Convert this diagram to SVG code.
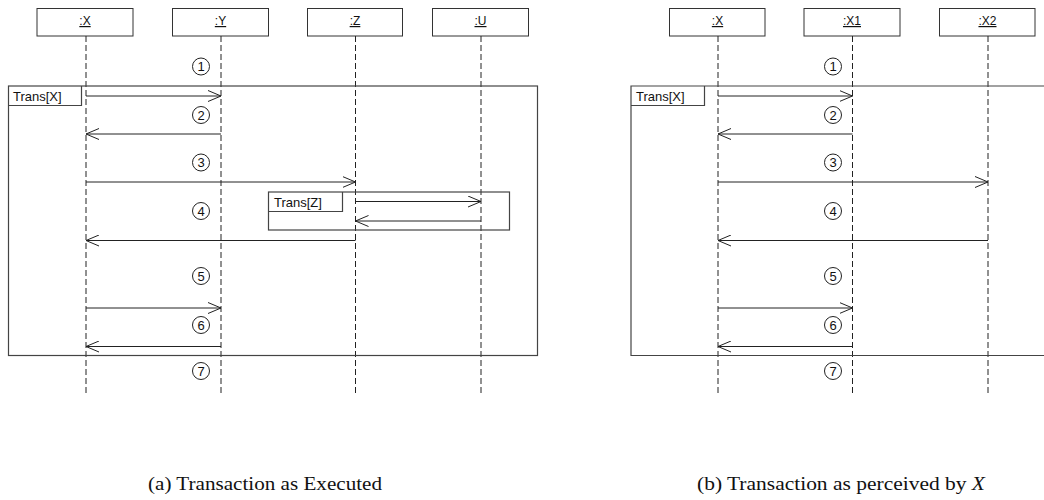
<svg xmlns="http://www.w3.org/2000/svg" width="1044" height="500" viewBox="0 0 1044 500">
<defs>
<style>
.obj{fill:#fff;stroke:#333;stroke-width:1}
.life{stroke:#222;stroke-width:1;stroke-dasharray:6,3;fill:none}
.frame{fill:none;stroke:#444;stroke-width:1.2}
.msg{stroke:#222;stroke-width:1;fill:none}
.lbl{font-family:"Liberation Sans",Arial,sans-serif;font-size:12px;fill:#111;text-anchor:middle;text-decoration:underline}
.flbl{font-family:"Liberation Sans",Arial,sans-serif;font-size:13px;fill:#111}
.num{fill:none;stroke:#222;stroke-width:1}
.numt{font-family:"Liberation Sans",Arial,sans-serif;font-size:13px;fill:#111;text-anchor:middle}
.cap{font-family:"Liberation Serif","Times New Roman",serif;font-size:18px;fill:#111}
</style>
<marker id="ah" viewBox="0 0 14 12" refX="13" refY="6" markerWidth="14" markerHeight="12" markerUnits="userSpaceOnUse" orient="auto">
<path d="M0,0.5 L13,6 L0,11.5" fill="none" stroke="#222" stroke-width="1"/>
</marker>
</defs>

<!-- Left diagram (a) -->
<g id="a-obj-X"><rect class="obj" x="37" y="8.5" width="96" height="27.5"/><text class="lbl" x="85" y="25">:X</text></g>
<g id="a-obj-Y"><rect class="obj" x="172.5" y="8.5" width="96" height="27.5"/><text class="lbl" x="220.5" y="25">:Y</text></g>
<g id="a-obj-Z"><rect class="obj" x="307.5" y="8.5" width="95" height="27.5"/><text class="lbl" x="355" y="25">:Z</text></g>
<g id="a-obj-U"><rect class="obj" x="432.5" y="8.5" width="96" height="27.5"/><text class="lbl" x="480.5" y="25">:U</text></g>

<g id="a-lifelines">
<line class="life" x1="86" y1="36" x2="86" y2="396"/>
<line class="life" x1="221" y1="36" x2="221" y2="396"/>
<line class="life" x1="355.5" y1="36" x2="355.5" y2="396"/>
<line class="life" x1="481" y1="36" x2="481" y2="396"/>
</g>

<g id="a-frame-TransX">
<rect class="frame" x="8.5" y="86" width="529" height="269.5"/>
<path class="frame" d="M8.5,105.5 H81.5 V86"/>
<text class="flbl" x="13" y="101">Trans[X]</text>
</g>

<g id="a-frame-TransZ">
<rect class="frame" x="268.5" y="192" width="241" height="38"/>
<path class="frame" d="M268.5,211.5 H342.5 V192"/>
<text class="flbl" x="274" y="207">Trans[Z]</text>
</g>

<g id="a-numbers">
<circle class="num" cx="201" cy="66.5" r="8.5"/><text class="numt" x="201" y="71">1</text>
<circle class="num" cx="201" cy="115" r="8.5"/><text class="numt" x="201" y="119.5">2</text>
<circle class="num" cx="201" cy="162.5" r="8.5"/><text class="numt" x="201" y="167">3</text>
<circle class="num" cx="201" cy="211" r="8.5"/><text class="numt" x="201" y="215.5">4</text>
<circle class="num" cx="201" cy="276" r="8.5"/><text class="numt" x="201" y="280.5">5</text>
<circle class="num" cx="201" cy="325" r="8.5"/><text class="numt" x="201" y="329.5">6</text>
<circle class="num" cx="201" cy="371" r="8.5"/><text class="numt" x="201" y="375.5">7</text>
</g>

<g id="a-connectors">
<line class="msg" x1="86" y1="96" x2="221" y2="96" marker-end="url(#ah)"/>
<line class="msg" x1="221" y1="134" x2="86" y2="134" marker-end="url(#ah)"/>
<line class="msg" x1="86" y1="182" x2="355.5" y2="182" marker-end="url(#ah)"/>
<line class="msg" x1="355.5" y1="201.5" x2="481" y2="201.5" marker-end="url(#ah)"/>
<line class="msg" x1="481" y1="221" x2="355.5" y2="221" marker-end="url(#ah)"/>
<line class="msg" x1="355.5" y1="240.5" x2="86" y2="240.5" marker-end="url(#ah)"/>
<line class="msg" x1="86" y1="308" x2="221" y2="308" marker-end="url(#ah)"/>
<line class="msg" x1="221" y1="346.5" x2="86" y2="346.5" marker-end="url(#ah)"/>
</g>

<!-- Right diagram (b) -->
<g id="b-obj-X"><rect class="obj" x="669.5" y="8.5" width="95.5" height="27.5"/><text class="lbl" x="717.5" y="25">:X</text></g>
<g id="b-obj-X1"><rect class="obj" x="804" y="8.5" width="96" height="27.5"/><text class="lbl" x="852" y="25">:X1</text></g>
<g id="b-obj-X2"><rect class="obj" x="939.5" y="8.5" width="95.5" height="27.5"/><text class="lbl" x="987.5" y="25">:X2</text></g>

<g id="b-lifelines">
<line class="life" x1="718" y1="36" x2="718" y2="396"/>
<line class="life" x1="852.5" y1="36" x2="852.5" y2="396"/>
<line class="life" x1="988" y1="36" x2="988" y2="396"/>
</g>

<g id="b-frame-TransX">
<path class="frame" d="M1050,86 H631 V355.5 H1050"/>
<path class="frame" d="M631,105.5 H704.5 V86"/>
<text class="flbl" x="636" y="101">Trans[X]</text>
</g>

<g id="b-numbers">
<circle class="num" cx="833" cy="66.5" r="8.5"/><text class="numt" x="833" y="71">1</text>
<circle class="num" cx="833" cy="115" r="8.5"/><text class="numt" x="833" y="119.5">2</text>
<circle class="num" cx="833" cy="162.5" r="8.5"/><text class="numt" x="833" y="167">3</text>
<circle class="num" cx="833" cy="211" r="8.5"/><text class="numt" x="833" y="215.5">4</text>
<circle class="num" cx="833" cy="276" r="8.5"/><text class="numt" x="833" y="280.5">5</text>
<circle class="num" cx="833" cy="325" r="8.5"/><text class="numt" x="833" y="329.5">6</text>
<circle class="num" cx="833" cy="371" r="8.5"/><text class="numt" x="833" y="375.5">7</text>
</g>

<g id="b-connectors">
<line class="msg" x1="718" y1="96" x2="852.5" y2="96" marker-end="url(#ah)"/>
<line class="msg" x1="852.5" y1="134" x2="718" y2="134" marker-end="url(#ah)"/>
<line class="msg" x1="718" y1="182" x2="988" y2="182" marker-end="url(#ah)"/>
<line class="msg" x1="988" y1="240.5" x2="718" y2="240.5" marker-end="url(#ah)"/>
<line class="msg" x1="718" y1="308" x2="852.5" y2="308" marker-end="url(#ah)"/>
<line class="msg" x1="852.5" y1="346.5" x2="718" y2="346.5" marker-end="url(#ah)"/>
</g>

<g id="captions">
<text class="cap" x="148" y="490" textLength="234" lengthAdjust="spacingAndGlyphs">(a) Transaction as Executed</text>
<text class="cap" x="697" y="490" textLength="288" lengthAdjust="spacingAndGlyphs">(b) Transaction as perceived by <tspan font-style="italic">X</tspan></text>
</g>
</svg>
